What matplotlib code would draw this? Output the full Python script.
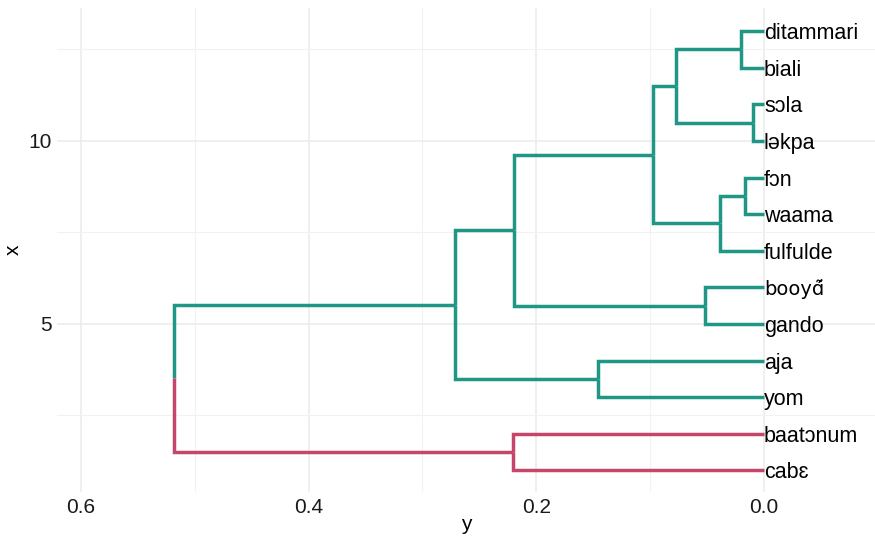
import numpy as np
import matplotlib.pyplot as plt

plt.rcParams['font.family'] = ['Liberation Sans', 'DejaVu Sans']

# leaves from bottom (position 1) to top (position 13)
labels = ['cabɛ', 'baatɔnum', 'yom', 'aja', 'gando', 'booyɑ̃́', 'fulfulde',
          'waama', 'fɔn', 'ləkpa', 'sɔla', 'biali', 'ditammari']
leaf_group = [1, 1, 0, 0, 0, 0, 0, 0, 0, 0, 0, 0, 0]

# merges: (child a, child b, height); new nodes numbered from len(labels)
merges = [
    (12, 11, 0.020),
    (10, 9, 0.0097),
    (13, 14, 0.077),
    (8, 7, 0.017),
    (16, 6, 0.039),
    (15, 17, 0.0975),
    (5, 4, 0.052),
    (18, 19, 0.220),
    (3, 2, 0.146),
    (20, 21, 0.271),
    (1, 0, 0.2206),
    (22, 23, 0.518),
]

colors = ['#1F9784', '#C4466B']

n = len(labels)
pos = {i: i + 1 for i in range(n)}
height = {i: 0.0 for i in range(n)}
group = {i: leaf_group[i] for i in range(n)}
for k, (a, b, h) in enumerate(merges):
    node = n + k
    pos[node] = (pos[a] + pos[b]) / 2
    height[node] = h
    group[node] = group[a] if group[a] == group[b] else -1

fig = plt.figure(figsize=(8.75, 5.38), dpi=100)
ax = fig.add_axes([57 / 875, 1 - 492 / 538, 1 - 57 / 875, (492 - 8) / 538])

for k, (a, b, h) in enumerate(merges):
    node = n + k
    for c in (a, b):
        col = colors[group[c]]
        ax.plot([h, h, height[c]], [pos[node], pos[c], pos[c]],
                color=col, lw=2.5, solid_capstyle='butt', solid_joinstyle='miter', zorder=3)

for i, lab in enumerate(labels):
    # combining accents sit better in DejaVu
    fam = ['DejaVu Sans'] if '\u0303' in lab else ['Liberation Sans', 'DejaVu Sans']
    fs = 14 if '\u0303' in lab else 15.5
    ax.text(0, pos[i], lab, ha='left', va='center_baseline', fontsize=fs, zorder=4, family=fam)

ax.set_xlim(0.621, -0.0975)
ax.set_ylim(0.41, 13.63)
ax.set_xticks([0.6, 0.4, 0.2, 0.0])
ax.set_xticklabels(['0.6', '0.4', '0.2', '0.0'])
ax.set_xticks([0.5, 0.3, 0.1], minor=True)
ax.set_yticks([5, 10])
ax.set_yticks([2.5, 7.5, 12.5], minor=True)
ax.grid(which='major', color='#EBEBEB', lw=1.1)
ax.grid(which='minor', color='#F2F2F2', lw=0.8)
ax.set_axisbelow(True)
for s in ax.spines.values():
    s.set_visible(False)
ax.tick_params(which='both', length=0, labelsize=15, colors='#1A1A1A', pad=4)
ax.set_xlabel('y', fontsize=15, labelpad=-1)
ax.set_ylabel('x', fontsize=15, labelpad=4)

fig.savefig('out.png', dpi=100)
